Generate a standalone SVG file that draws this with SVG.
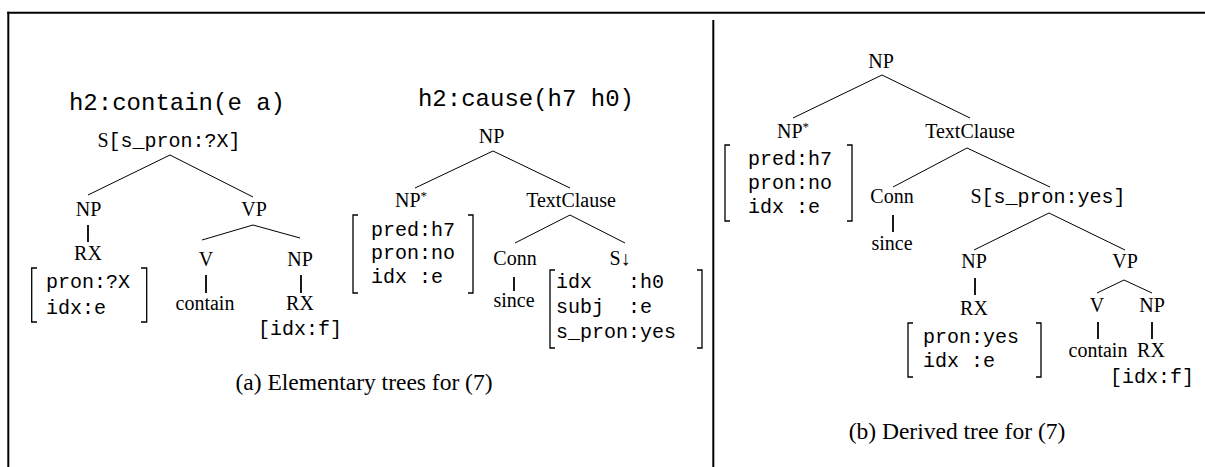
<svg xmlns="http://www.w3.org/2000/svg" width="1205" height="467" viewBox="0 0 1205 467">
  <style>
    .lbl { font-family: "Liberation Serif", "Times New Roman", serif; font-size: 20px; fill: #000; text-anchor: middle; }
    .cap { font-family: "Liberation Serif", "Times New Roman", serif; font-size: 23.5px; fill: #000; text-anchor: middle; }
    .tt { font-family: "Liberation Mono", "Courier New", monospace; font-size: 20px; fill: #000; }
    .ttl { font-family: "Liberation Mono", "Courier New", monospace; font-size: 24px; fill: #000; text-anchor: middle; }
    .sup { font-size: 13px; }
    .edge { stroke: #000; stroke-width: 1; fill: none; }
    .stem { stroke: #000; stroke-width: 1.8; fill: none; }
    .brk { stroke: #000; stroke-width: 1.3; fill: none; }
    .frame { stroke: #000; stroke-width: 2; fill: none; }
  </style>

  <!-- outer frame and panel divider -->
  <g id="frame">
    <line class="frame" x1="7.3" y1="12.7" x2="1205" y2="12.7"/>
    <line class="frame" x1="8.3" y1="11.7" x2="8.3" y2="467"/>
    <line class="frame" x1="713.3" y1="20" x2="713.3" y2="467"/>
  </g>

  <!-- tree edges -->
  <g id="connectors">
    <!-- contain tree -->
    <line class="edge" x1="170" y1="155" x2="88" y2="195"/>
    <line class="edge" x1="170" y1="155" x2="253" y2="197"/>
    <line class="stem" x1="88" y1="225" x2="88" y2="242"/>
    <line class="edge" x1="253" y1="225" x2="202" y2="240"/>
    <line class="edge" x1="253" y1="225" x2="300" y2="238"/>
    <line class="stem" x1="206" y1="275" x2="206" y2="293"/>
    <line class="stem" x1="301" y1="275" x2="301" y2="293"/>
    <!-- cause tree -->
    <line class="edge" x1="493" y1="151" x2="415" y2="188"/>
    <line class="edge" x1="493" y1="151" x2="570" y2="188"/>
    <line class="edge" x1="570" y1="215" x2="515" y2="243"/>
    <line class="edge" x1="570" y1="215" x2="625" y2="243"/>
    <line class="stem" x1="514" y1="277" x2="514" y2="291"/>
    <!-- derived tree -->
    <line class="edge" x1="882" y1="75" x2="793" y2="118"/>
    <line class="edge" x1="882" y1="75" x2="970" y2="118"/>
    <line class="edge" x1="967" y1="148" x2="893" y2="187"/>
    <line class="edge" x1="967" y1="148" x2="1050" y2="187"/>
    <line class="stem" x1="893" y1="215" x2="893" y2="232"/>
    <line class="edge" x1="1049" y1="213" x2="974" y2="250"/>
    <line class="edge" x1="1049" y1="213" x2="1125" y2="250"/>
    <line class="stem" x1="975" y1="278" x2="975" y2="295"/>
    <line class="edge" x1="1124" y1="280" x2="1097" y2="293"/>
    <line class="edge" x1="1124" y1="280" x2="1152" y2="293"/>
    <line class="stem" x1="1098" y1="322" x2="1098" y2="339"/>
    <line class="stem" x1="1152" y1="322" x2="1152" y2="339"/>
  </g>

  <!-- (a) contain tree -->
  <g id="contain-sem"><text class="ttl" x="177" y="110">h2:contain(e a)</text></g>
  <g id="contain-S"><text class="lbl" x="169" y="147">S<tspan class="tt">[s_pron:?X]</tspan></text></g>
  <g id="contain-NP"><text class="lbl" x="88.5" y="216">NP</text></g>
  <g id="contain-VP"><text class="lbl" x="254" y="216">VP</text></g>
  <g id="contain-RX">
    <text class="lbl" x="88" y="260">RX</text>
    <path class="brk" d="M 37 268 H 31.7 V 322 H 37"/>
    <path class="brk" d="M 141 268 H 146.7 V 322 H 141"/>
    <text class="tt" x="46" y="288">pron:?X</text>
    <text class="tt" x="46" y="314">idx:e</text>
  </g>
  <g id="contain-V"><text class="lbl" x="206" y="266">V</text></g>
  <g id="contain-NP2"><text class="lbl" x="300" y="266">NP</text></g>
  <g id="contain-word"><text class="lbl" x="205" y="310">contain</text></g>
  <g id="contain-RX2">
    <text class="lbl" x="300" y="310">RX</text>
    <text class="tt" x="300" y="335" text-anchor="middle">[idx:f]</text>
  </g>

  <!-- (a) cause tree -->
  <g id="cause-sem"><text class="ttl" x="526" y="106">h2:cause(h7 h0)</text></g>
  <g id="cause-NP"><text class="lbl" x="491.5" y="143">NP</text></g>
  <g id="cause-NPfoot">
    <text class="lbl" x="411" y="207">NP<tspan class="sup" dy="-7">*</tspan></text>
    <path class="brk" d="M 358 215 H 353 V 293 H 358"/>
    <path class="brk" d="M 468 215 H 473 V 293 H 468"/>
    <text class="tt" x="371" y="236">pred:h7</text>
    <text class="tt" x="371" y="259">pron:no</text>
    <text class="tt" x="371" y="283" xml:space="preserve">idx :e</text>
  </g>
  <g id="cause-TextClause"><text class="lbl" x="571" y="207">TextClause</text></g>
  <g id="cause-Conn"><text class="lbl" x="515" y="265">Conn</text></g>
  <g id="cause-since"><text class="lbl" x="514" y="307">since</text></g>
  <g id="cause-Ssub">
    <text class="lbl" x="620" y="265">S↓</text>
    <path class="brk" d="M 555 270 H 550 V 348 H 555"/>
    <path class="brk" d="M 697 270 H 702 V 348 H 697"/>
    <text class="tt" x="556" y="288" xml:space="preserve">idx   :h0</text>
    <text class="tt" x="556" y="313" xml:space="preserve">subj  :e</text>
    <text class="tt" x="556" y="338">s_pron:yes</text>
  </g>
  <g id="caption-a"><text class="cap" x="364" y="390">(a) Elementary trees for (7)</text></g>

  <!-- (b) derived tree -->
  <g id="derived-NP"><text class="lbl" x="881" y="68">NP</text></g>
  <g id="derived-NPfoot">
    <text class="lbl" x="793" y="138">NP<tspan class="sup" dy="-7">*</tspan></text>
    <path class="brk" d="M 730 145 H 725 V 221 H 730"/>
    <path class="brk" d="M 847 145 H 852 V 221 H 847"/>
    <text class="tt" x="748" y="165">pred:h7</text>
    <text class="tt" x="748" y="189">pron:no</text>
    <text class="tt" x="748" y="213" xml:space="preserve">idx :e</text>
  </g>
  <g id="derived-TextClause"><text class="lbl" x="970" y="138">TextClause</text></g>
  <g id="derived-Conn"><text class="lbl" x="892" y="203">Conn</text></g>
  <g id="derived-since"><text class="lbl" x="892" y="250">since</text></g>
  <g id="derived-S"><text class="lbl" x="1048" y="203">S<tspan class="tt">[s_pron:yes]</tspan></text></g>
  <g id="derived-NP2"><text class="lbl" x="974" y="268">NP</text></g>
  <g id="derived-VP"><text class="lbl" x="1125" y="268">VP</text></g>
  <g id="derived-RX">
    <text class="lbl" x="974" y="315">RX</text>
    <path class="brk" d="M 913 323 H 908 V 377 H 913"/>
    <path class="brk" d="M 1036 323 H 1041 V 377 H 1036"/>
    <text class="tt" x="923" y="343">pron:yes</text>
    <text class="tt" x="923" y="367" xml:space="preserve">idx :e</text>
  </g>
  <g id="derived-V"><text class="lbl" x="1097" y="312">V</text></g>
  <g id="derived-NP3"><text class="lbl" x="1152" y="312">NP</text></g>
  <g id="derived-word"><text class="lbl" x="1098" y="357">contain</text></g>
  <g id="derived-RX2">
    <text class="lbl" x="1151" y="357">RX</text>
    <text class="tt" x="1152" y="383" text-anchor="middle">[idx:f]</text>
  </g>
  <g id="caption-b"><text class="cap" x="957" y="439">(b) Derived tree for (7)</text></g>
</svg>
